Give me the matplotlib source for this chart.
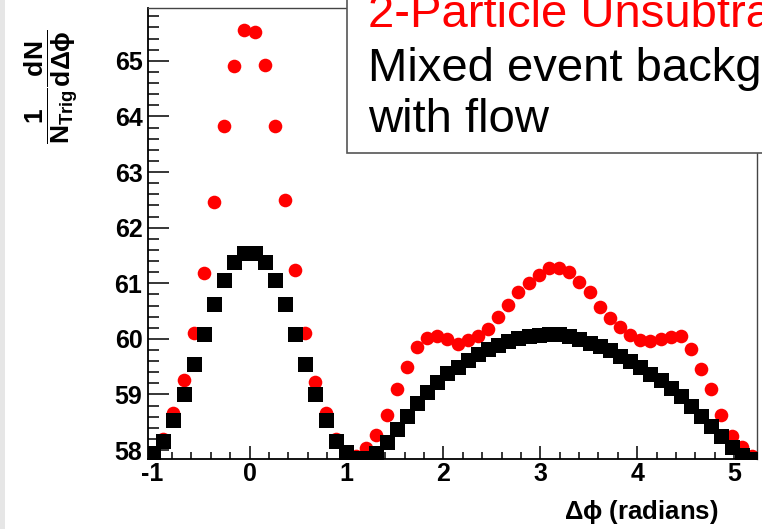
import numpy as np
import matplotlib
matplotlib.use('Agg')
from matplotlib import pyplot as plt
from matplotlib.patches import Rectangle
from matplotlib.ticker import MultipleLocator

plt.rcParams['font.family'] = ['Liberation Sans', 'DejaVu Sans']
plt.rcParams['axes.unicode_minus'] = False
plt.rcParams['mathtext.fontset'] = 'custom'
plt.rcParams['mathtext.rm'] = 'Liberation Sans:bold'
plt.rcParams['mathtext.it'] = 'Liberation Sans:bold'
plt.rcParams['mathtext.bf'] = 'Liberation Sans:bold'

# 60 bins over [-pi/3, 5pi/3]
phi_lo, phi_hi = -np.pi / 3, 5 * np.pi / 3
edges = np.linspace(phi_lo, phi_hi, 61)
dphi = 0.5 * (edges[:-1] + edges[1:])

# red: 2-particle unsubtracted
signal = [57.95, 58.20, 58.67, 59.26, 60.10, 61.19, 62.46, 63.82, 64.90, 65.55,
          65.51, 64.93, 63.82, 62.49, 61.23, 60.10, 59.23, 58.67, 58.20, 57.95,
          57.90, 58.03, 58.28, 58.63, 59.10, 59.50, 59.86, 60.01, 60.06, 60.00,
          59.90, 59.98, 60.05, 60.17, 60.40, 60.61, 60.85, 61.00, 61.15, 61.28,
          61.28, 61.21, 61.03, 60.85, 60.58, 60.38, 60.21, 60.07, 59.98, 59.96,
          60.00, 60.04, 60.05, 59.82, 59.46, 59.10, 58.64, 58.25, 58.06, 57.90]

# black: mixed event background with flow
mixed = [57.95, 58.17, 58.54, 59.01, 59.54, 60.08, 60.63, 61.06, 61.39, 61.55,
         61.55, 61.39, 61.06, 60.63, 60.08, 59.54, 59.01, 58.54, 58.17, 57.97,
         57.85, 57.85, 57.95, 58.15, 58.38, 58.62, 58.84, 59.05, 59.23, 59.38,
         59.50, 59.62, 59.72, 59.82, 59.89, 59.96, 60.02, 60.05, 60.07, 60.08,
         60.08, 60.05, 60.00, 59.93, 59.87, 59.80, 59.70, 59.60, 59.49, 59.37,
         59.26, 59.12, 58.97, 58.80, 58.61, 58.43, 58.25, 58.06, 57.91, 57.84]

W, H = 762, 529
fig = plt.figure(figsize=(W / 100, H / 100), dpi=100)
fig.patch.set_facecolor('white')

# light grey strip on the left edge
fig.add_artist(Rectangle((0, 0), 5 / W, 1, transform=fig.transFigure,
                         facecolor='#e6e6e6', edgecolor='none', zorder=0))

ax = fig.add_axes([148 / W, (H - 459) / H, (757 - 148) / W, (459 - 8) / H])
ax.plot(dphi, signal, 'o', color='red', ms=9.8, mew=0, zorder=2)
ax.plot(dphi, mixed, 's', color='black', ms=10.8, mew=0, zorder=3)
ax.set_xlim(phi_lo, phi_hi)
ax.set_ylim(57.84, 65.95)

ax.xaxis.set_major_locator(MultipleLocator(1))
ax.xaxis.set_minor_locator(MultipleLocator(0.2))
ax.yaxis.set_major_locator(MultipleLocator(1))
ax.yaxis.set_minor_locator(MultipleLocator(0.2))
ax.tick_params(axis='x', which='major', direction='in', length=9.4, width=1.1,
               labelsize=18, pad=2.5)
ax.tick_params(axis='x', which='minor', direction='in', length=5, width=1.1)
ax.tick_params(axis='y', which='major', direction='in', length=15, width=1.1,
               labelsize=18, pad=4)
ax.tick_params(axis='y', which='minor', direction='in', length=8, width=1.1)
for lab in ax.get_xticklabels() + ax.get_yticklabels():
    lab.set_fontweight('bold')

for s in ['left', 'bottom']:
    ax.spines[s].set_linewidth(1.3)
for s in ['top', 'right']:
    ax.spines[s].set_linewidth(1.0)
    ax.spines[s].set_color('#444444')

# axis titles
fig.text(51 / W, 1 - 87 / H, r'$\dfrac{1}{N_{Trig}}\dfrac{dN}{d\Delta\phi}$',
         rotation=90, ha='center', va='center', fontsize=19)
fig.text(718 / W, 1 - 512 / H, r'$\Delta\phi$ (radians)', ha='right',
         va='center', fontsize=18.5, fontweight='bold')

# legend box (runs off the top and right edges, as in the source plot)
fig.add_artist(Rectangle((347 / W, (H - 153) / H), 1.0, 1.0,
                         transform=fig.transFigure, facecolor='white',
                         edgecolor='#555555', lw=1.2, zorder=5))
fig.text(368 / W, 1 - 27 / H, '2-Particle Unsubtracted', color='red',
         fontsize=34, va='baseline', zorder=6)
fig.text(368 / W, 1 - 81 / H, 'Mixed event background', color='black',
         fontsize=34, va='baseline', zorder=6)
fig.text(368 / W, 1 - 132 / H, 'with flow', color='black',
         fontsize=34, va='baseline', zorder=6)

fig.savefig('out.png', dpi=100)
